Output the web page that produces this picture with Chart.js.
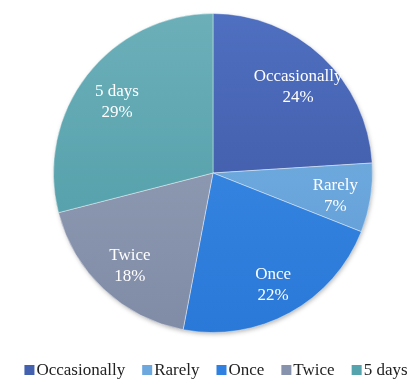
<!DOCTYPE html>
<html>
<head>
<meta charset="utf-8">
<script src="https://cdn.jsdelivr.net/npm/chart.js@4/dist/chart.umd.min.js"></script>
<style>
  html, body { margin: 0; padding: 0; background: #fff; }
  #wrap { width: 416px; height: 379px; }
</style>
</head>
<body>
<div id="wrap"><canvas id="freqPie"></canvas></div>
<script>
// frequency shares
const categories = ['Occasionally', 'Rarely', 'Once', 'Twice', '5 days'];
const shares = [24, 7, 22, 18, 29];
const topColors = ['#4f6fc0', '#7bb3e3', '#3d8ee6', '#97a1b9', '#6cafb9'];
const bottomColors = ['#3a539d', '#5d9bd6', '#2a78d8', '#808ca6', '#4a9aa5'];
const legendColors = ['#4461b0', '#6ca7dd', '#2f80e0', '#8793ad', '#55a3ad'];

const serif = '"Liberation Serif", "Times New Roman", serif';

function sliceFill(context) {
    const chart = context.chart;
    const area = chart.chartArea;
    const i = context.dataIndex;
    if (!area) return topColors[i];
    const g = chart.ctx.createLinearGradient(0, area.top, 0, area.bottom);
    g.addColorStop(0, topColors[i]);
    g.addColorStop(1, bottomColors[i]);
    return g;
}

// soft shadow under the whole pie
const pieShadow = {
    id: 'pieShadow',
    beforeDatasetsDraw(chart) {
        const arc = chart.getDatasetMeta(0).data[0];
        if (!arc) return;
        const ctx = chart.ctx;
        ctx.save();
        ctx.shadowColor = 'rgba(0,0,0,0.35)';
        ctx.shadowBlur = 5;
        ctx.shadowOffsetX = 1;
        ctx.shadowOffsetY = 2;
        ctx.fillStyle = '#ffffff';
        ctx.beginPath();
        ctx.arc(arc.x, arc.y, arc.outerRadius - 1, 0, Math.PI * 2);
        ctx.fill();
        ctx.restore();
    }
};

// writes "name / value%" inside each slice
const sliceLabels = {
    id: 'sliceLabels',
    afterDatasetsDraw(chart) {
        const ctx = chart.ctx;
        const meta = chart.getDatasetMeta(0);
        ctx.save();
        ctx.fillStyle = '#ffffff';
        ctx.font = '17px ' + serif;
        ctx.textAlign = 'center';
        ctx.textBaseline = 'middle';
        meta.data.forEach((arc, i) => {
            const p = arc.getProps(['x', 'y', 'startAngle', 'endAngle', 'outerRadius']);
            const mid = (p.startAngle + p.endAngle) / 2;
            const r = p.outerRadius * 0.77;
            const x = p.x + Math.cos(mid) * r + 1;
            const y = p.y + Math.sin(mid) * r + 4;
            ctx.fillText(categories[i], x, y - 10.5);
            ctx.fillText(shares[i] + '%', x, y + 10.5);
        });
        ctx.restore();
    }
};

// single-row legend along the bottom
const bottomLegend = {
    id: 'bottomLegend',
    afterDraw(chart) {
        const ctx = chart.ctx;
        const box = 10, gapText = 2, gapItem = 17;
        ctx.save();
        ctx.font = '17px ' + serif;
        ctx.textBaseline = 'middle';
        const widths = categories.map(c => ctx.measureText(c).width);
        let total = 0;
        widths.forEach((w, i) => { total += box + gapText + w + (i < widths.length - 1 ? gapItem : 0); });
        let x = 216 - total / 2;
        const y = 370;
        categories.forEach((c, i) => {
            ctx.fillStyle = legendColors[i];
            ctx.fillRect(x, y - 5, box, box);
            x += box + gapText;
            ctx.fillStyle = '#222';
            ctx.fillText(c, x, y + 1);
            x += widths[i] + gapItem;
        });
        ctx.restore();
    }
};

new Chart(document.getElementById('freqPie'), {
    type: 'pie',
    data: {
        labels: categories,
        datasets: [{
            data: shares,
            backgroundColor: sliceFill,
            borderColor: 'rgba(255,255,255,0.4)',
            borderWidth: 1
        }]
    },
    options: {
        responsive: true,
        maintainAspectRatio: false,
        animation: false,
        layout: { padding: { top: 13, bottom: 46, left: 10 } },
        plugins: {
            tooltip: { enabled: false },
            legend: { display: false }
        }
    },
    plugins: [pieShadow, sliceLabels, bottomLegend]
});
</script>
</body>
</html>
